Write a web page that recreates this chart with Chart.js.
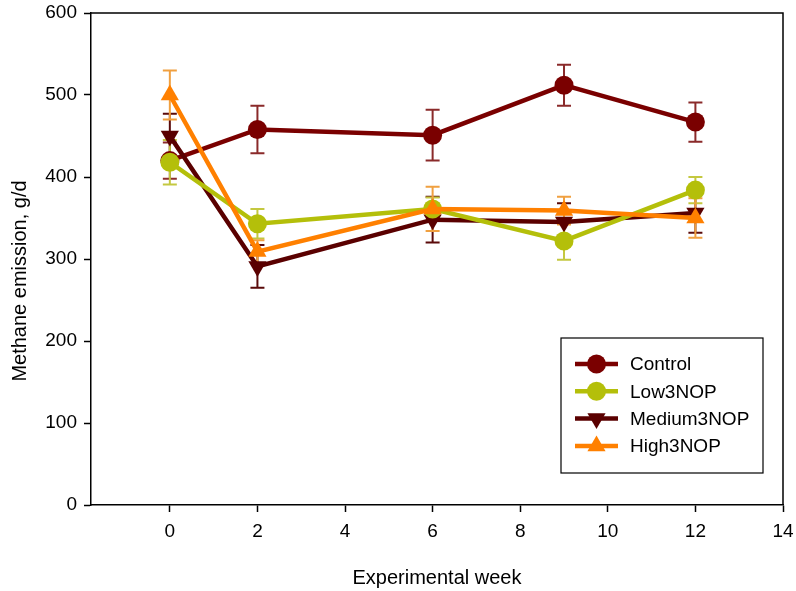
<!DOCTYPE html>
<html>
<head>
<meta charset="utf-8">
<script src="https://cdn.jsdelivr.net/npm/chart.js@4/dist/chart.umd.min.js"></script>
<style>
html,body{margin:0;padding:0;background:#fff;}
#wrap{width:796px;height:591px;position:relative;}
</style>
</head>
<body>
<div id="wrap"><canvas id="c" width="796" height="591"></canvas></div>
<script>
const weeks = [0, 2, 6, 9, 12];
const xTicks = [0, 2, 4, 6, 8, 10, 12, 14];
const yTicks = [0, 100, 200, 300, 400, 500, 600];
const seriesNames = ['Control', 'Low3NOP', 'Medium3NOP', 'High3NOP'];
const control = [420, 458, 451, 512, 467];
const controlErr = [22, 29, 31, 25, 24];
const low = [418, 343, 361, 322, 384];
const lowErr = [27, 18, 14, 23, 16];
const medium = [450, 291, 348, 345, 356];
const mediumErr = [27, 26, 28, 23, 24];
const high = [500, 309, 361, 359, 350];
const highErr = [30, 14, 27, 17, 24];
const yTitle = 'Methane emission, g/d';
const xTitle = 'Experimental week';

const FONT = "'Liberation Sans', Arial, sans-serif";

function pts(vals){ return weeks.map((w,i)=>({x:w, y:vals[i]})); }

const styles = [
  {color:'#7a0000', err:'#8a2a2a', point:'circle', rot:0, r:9.5, order:3},
  {color:'#b4bf0a', err:'#c4c840', point:'circle', rot:0, r:9.5, order:1},
  {color:'#5a0000', err:'#5a0a0a', point:'triangle', rot:180, r:10.5, order:2},
  {color:'#ff8000', err:'#f0a040', point:'triangle', rot:0, r:10.5, order:0}
];
const values = [control, low, medium, high];
const errors = [controlErr, lowErr, mediumErr, highErr];

const datasets = seriesNames.map((n,i)=>({
  label:n,
  data:pts(values[i]),
  errors:errors[i],
  errColor:styles[i].err,
  borderColor:styles[i].color,
  backgroundColor:styles[i].color,
  borderWidth:4.5,
  pointStyle:styles[i].point,
  pointRotation:styles[i].rot,
  pointRadius:styles[i].r,
  pointBorderWidth:0,
  pointBackgroundColor:styles[i].color,
  showLine:true,
  tension:0,
  order:styles[i].order
}));

const errorBars = {
  id:'errorBars',
  beforeDatasetsDraw(chart){
    const ctx = chart.ctx, xs = chart.scales.x, ys = chart.scales.y;
    ctx.save();
    chart.data.datasets.slice().sort((a,b)=>b.order-a.order).forEach(ds=>{
      ctx.strokeStyle = ds.errColor;
      ctx.lineWidth = 2;
      ds.data.forEach((p,i)=>{
        const e = ds.errors[i];
        const px = xs.getPixelForValue(p.x);
        const top = ys.getPixelForValue(p.y + e);
        const bot = ys.getPixelForValue(p.y - e);
        ctx.beginPath();
        ctx.moveTo(px, top); ctx.lineTo(px, bot);
        ctx.moveTo(px-7, top); ctx.lineTo(px+7, top);
        ctx.moveTo(px-7, bot); ctx.lineTo(px+7, bot);
        ctx.stroke();
      });
    });
    ctx.restore();
  }
};

const frame = {
  id:'frame',
  afterDraw(chart){
    const ctx = chart.ctx, a = chart.chartArea;
    ctx.save();
    ctx.strokeStyle = '#000';
    ctx.lineWidth = 1.5;
    ctx.beginPath();
    ctx.moveTo(a.left, a.top); ctx.lineTo(a.right, a.top); ctx.lineTo(a.right, a.bottom);
    ctx.stroke();
    // y title
    ctx.save();
    ctx.translate(20, 281);
    ctx.rotate(-Math.PI/2);
    ctx.fillStyle = '#000';
    ctx.font = "20px " + FONT;
    ctx.textAlign = 'center';
    ctx.textBaseline = 'middle';
    ctx.fillText(yTitle, 0, 0);
    ctx.restore();
    // legend
    const L = {x:561, y:338, w:202, h:135};
    ctx.fillStyle = '#fff';
    ctx.fillRect(L.x, L.y, L.w, L.h);
    ctx.lineWidth = 1.2;
    ctx.strokeStyle = '#000';
    ctx.strokeRect(L.x, L.y, L.w, L.h);
    chart.data.datasets.forEach((ds,i)=>{
      const cy = 364 + i*27.3;
      ctx.strokeStyle = ds.borderColor;
      ctx.lineWidth = 4.5;
      ctx.beginPath(); ctx.moveTo(575, cy); ctx.lineTo(618, cy); ctx.stroke();
      ctx.fillStyle = ds.borderColor;
      Chart.helpers.drawPoint(ctx, {pointStyle:ds.pointStyle, rotation:ds.pointRotation, radius:ds.pointRadius, borderWidth:0}, 596.5, cy);
      ctx.fillStyle = '#000';
      ctx.font = "19px " + FONT;
      ctx.textBaseline = 'middle';
      ctx.textAlign = 'left';
      ctx.fillText(ds.label, 630, cy + 1);
    });
    ctx.restore();
  }
};

new Chart(document.getElementById('c'), {
  type:'scatter',
  data:{datasets},
  plugins:[errorBars, frame],
  options:{
    responsive:false,
    animation:false,
    layout:{padding:{top:13, right:13, left:0, bottom:0}},
    plugins:{legend:{display:false}, tooltip:{enabled:false}},
    scales:{
      x:{
        type:'linear', min:-1.8, max:14,
        afterBuildTicks(axis){ axis.ticks = xTicks.map(v=>({value:v})); },
        afterFit(scale){ scale.height = 86; scale.paddingLeft = 0; scale.paddingRight = 0; },
        grid:{drawOnChartArea:false, drawTicks:true, tickLength:7, tickColor:'#000', tickWidth:1.5},
        border:{display:true, color:'#000', width:1.5},
        ticks:{color:'#000', font:{family:FONT, size:19}, padding:8, maxRotation:0, autoSkip:false},
        title:{display:true, text:xTitle, color:'#000', font:{family:FONT, size:20}, padding:{top:0, bottom:1}}
      },
      y:{
        type:'linear', min:0, max:600,
        afterBuildTicks(axis){ axis.ticks = yTicks.map(v=>({value:v})); },
        afterFit(scale){ scale.width = 91; scale.paddingTop = 0; scale.paddingBottom = 0; },
        grid:{drawOnChartArea:false, drawTicks:true, tickLength:7, tickColor:'#000', tickWidth:1.5},
        border:{display:true, color:'#000', width:1.5},
        ticks:{color:'#000', font:{family:FONT, size:19}, padding:7},
        title:{display:false}
      }
    }
  }
});
</script>
</body>
</html>
